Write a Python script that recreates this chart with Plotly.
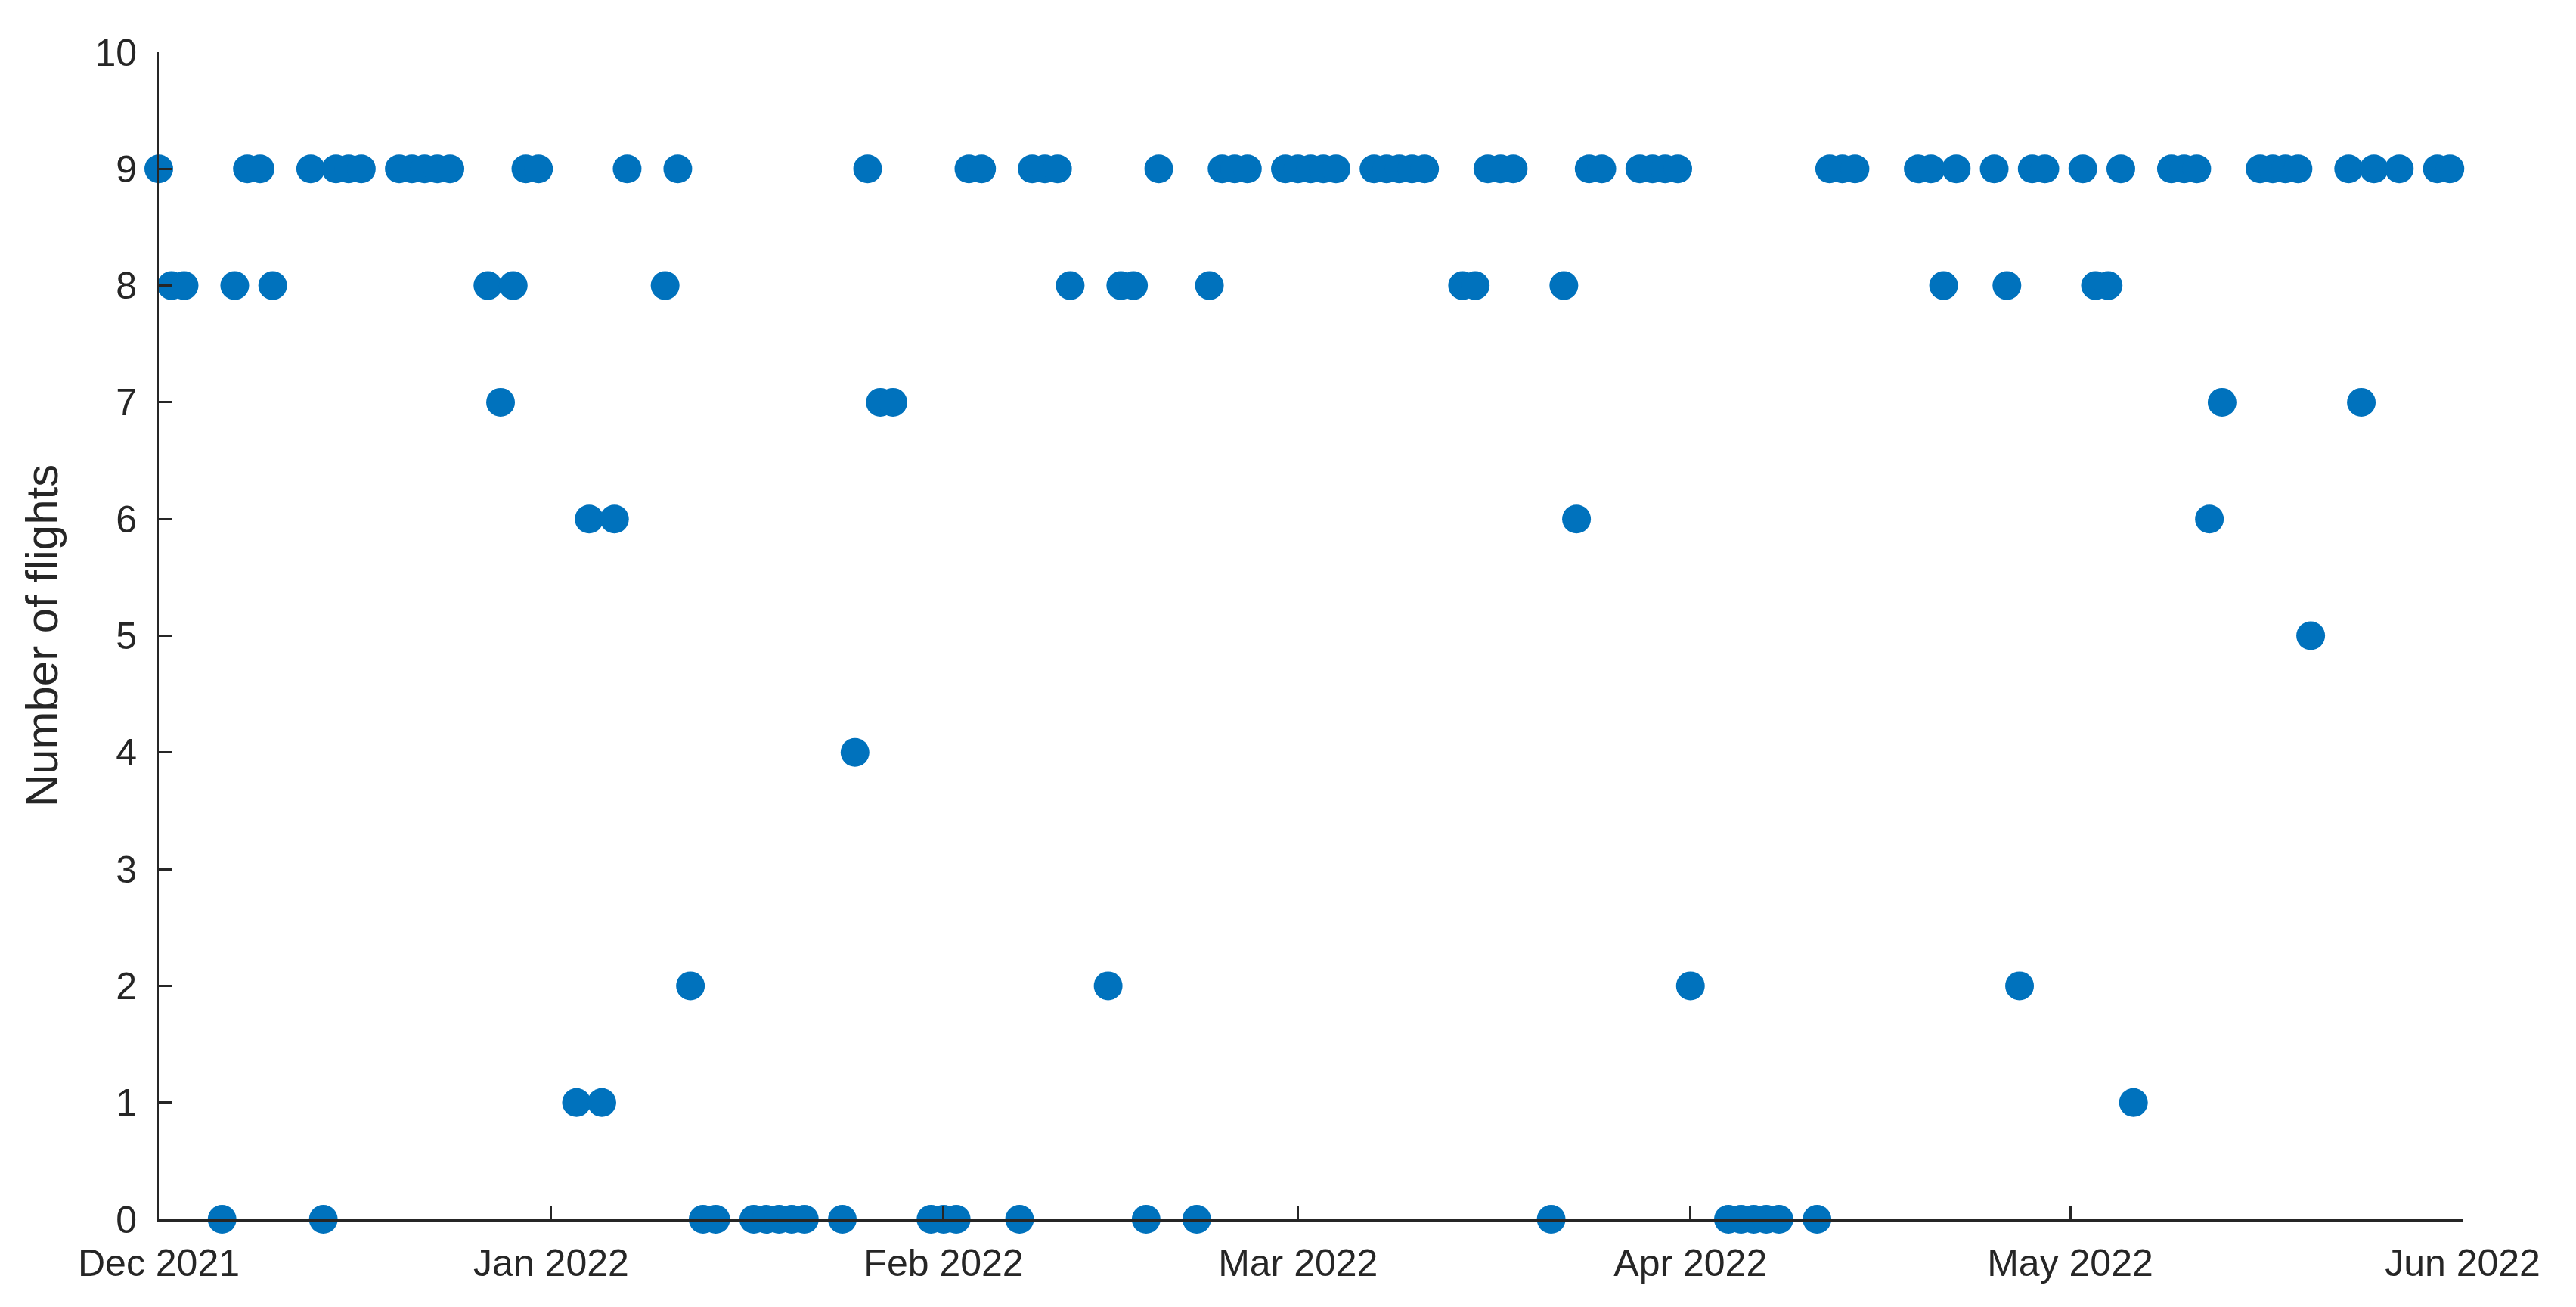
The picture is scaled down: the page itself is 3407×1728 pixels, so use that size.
import plotly.graph_objects as go
import pandas as pd

start = "2021-12-01"
day_offsets = [0,1,2,5,6,7,8,9,12,13,14,15,16,19,20,21,22,23,26,27,28,29,30,
 33,34,35,36,37,40,41,42,43,44,47,48,49,50,51,54,55,56,57,58,61,62,63,64,65,
 68,69,70,71,72,75,76,77,78,79,82,83,84,85,86,89,90,91,92,93,96,97,98,99,100,
 103,104,105,106,107,110,111,112,113,114,117,118,119,120,121,124,125,126,127,128,
 131,132,133,134,139,140,141,142,145,146,147,148,149,152,153,154,155,156,
 159,160,161,162,163,166,167,168,169,170,173,174,175,177,180,181]
flights = [9,8,8,0,8,9,9,8,9,0,9,9,9,9,9,9,9,9,8,7,8,9,9,
 1,6,1,6,9,8,9,2,0,0,0,0,0,0,0,0,4,9,7,7,0,0,0,9,9,
 0,9,9,9,8,2,8,8,0,9,0,8,9,9,9,9,9,9,9,9,9,9,9,9,9,
 8,8,9,9,9,0,8,6,9,9,9,9,9,9,2,0,0,0,0,0,
 0,9,9,9,9,9,8,9,9,8,2,9,9,9,8,8,9,1,
 9,9,9,6,7,9,9,9,9,5,9,7,9,9,9,9]
tick_dates = ["2021-12-01","2022-01-01","2022-02-01","2022-03-01","2022-04-01","2022-05-01","2022-06-01"]
tick_labels = ["Dec 2021","Jan 2022","Feb 2022","Mar 2022","Apr 2022","May 2022","Jun 2022"]

dates = pd.to_datetime(start) + pd.to_timedelta(day_offsets, unit="D")

fig = go.Figure(go.Scatter(x=dates, y=flights, mode="markers",
    marker=dict(color="#0072BD", size=38, line=dict(width=0)), cliponaxis=False))

font = dict(family="Liberation Sans, Arial", size=50, color="#262626")
fig.update_layout(width=3407, height=1728, plot_bgcolor="white", paper_bgcolor="white",
    margin=dict(l=202, r=158, t=61, b=124), showlegend=False, font=font)
fig.update_xaxes(range=["2021-12-01","2022-06-01"], tickvals=tick_dates, ticktext=tick_labels,
    showline=True, linecolor="#262626", linewidth=3, ticks="inside", ticklen=18, tickwidth=3,
    tickcolor="#262626", showgrid=False, zeroline=False, ticklabelstandoff=12)
fig.update_yaxes(range=[0,10], dtick=1, title=dict(text="Number of flights", standoff=30),
    showline=True, linecolor="#262626", linewidth=3, ticks="inside", ticklen=18, tickwidth=3,
    tickcolor="#262626", showgrid=False, zeroline=False, ticklabelstandoff=16)
fig.write_html("out.html")
